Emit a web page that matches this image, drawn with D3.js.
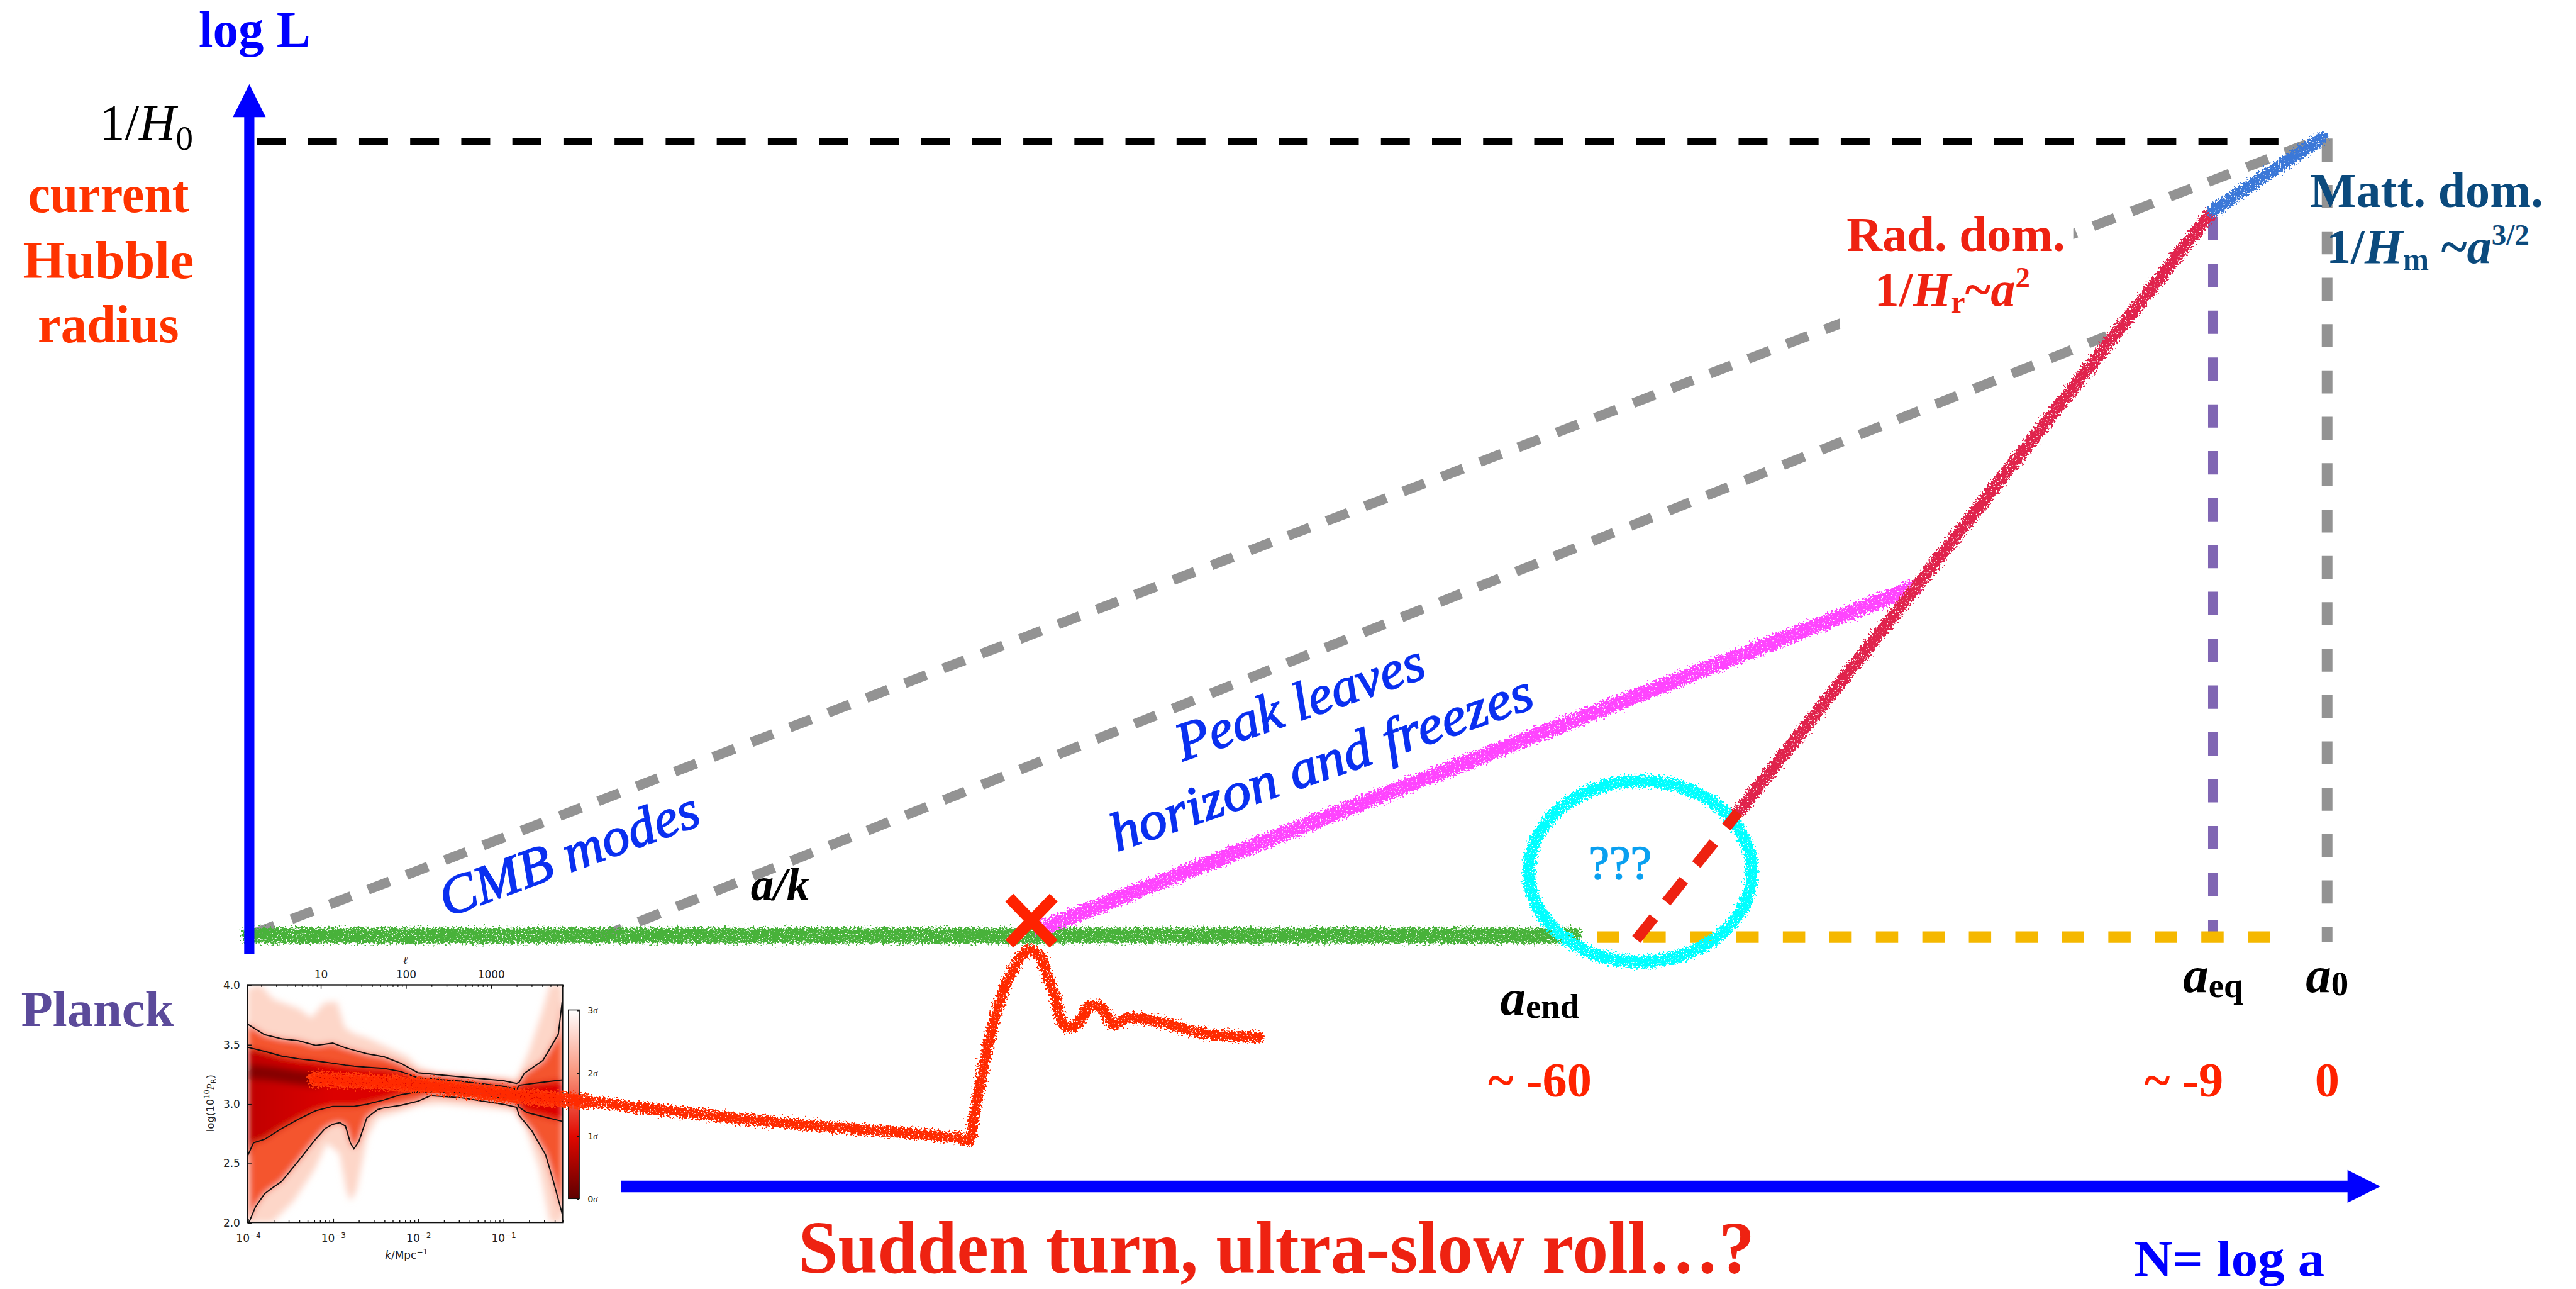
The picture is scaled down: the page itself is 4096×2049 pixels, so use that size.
<!DOCTYPE html>
<html>
<head>
<meta charset="utf-8">
<script src="https://cdn.jsdelivr.net/npm/d3@7"></script>
<style>
  html, body { margin: 0; padding: 0; background: #fff; overflow: hidden; }
  svg { display: block; }
</style>
</head>
<body>
<svg id="fig"></svg>
<script>
// drawing units (the viewBox scales them up to the window)
var W = 1568, H = 784;
var serif = "'Liberation Serif', 'Times New Roman', serif";
var sans = "'DejaVu Sans', sans-serif";

// ---------- schematic: x = N (e-folds, 0 today), y = log L with 1/H0 = 1 ----------
var axisN = -163.9, axisTopL = 1.072, axisBottomL = -0.023;
var arrowStartN = -134.6, arrowEndN = 4.2, arrowL = -0.316;

var hubbleLine   = [[-163.3, 1], [-3.05, 1]];
var modeUpper    = [[-163.6, 0.002], [-0.4, 1.004]];
var modeLower    = [[-136.2, -0.002], [-17.38, 0.755]];
var todayLine    = [[0, 1.0035], [0, -0.008]];
var eqLine       = [[-9, 0.905], [-9, 0.004]];
var reheatLine   = [[-57.6, -0.002], [-4.08, -0.002]];
var inflation    = [[-163.9, 0], [-59.4, 0]];
var peakExit     = [[-101.4, 0.009], [-32.46, 0.439]];
var radLine      = [[-46.46, 0.155], [-9, 0.913]];
var mattLine     = [[-9, 0.913], [-0.4, 1.004]];
var guessLine    = [[-54.49, -0.005], [-46.46, 0.155]];
var unknownSpot  = [-54.17, 0.0807];
var unknownSize  = [8.8, 0.114];
var peakMark     = [-102.2, 0.0186];

// sketched power spectrum, drawn below the axis (N, log L)
var spectrum = [
  [-158.68, -0.181], [-150.52, -0.188], [-144.56, -0.199], [-137.43, -0.209],
  [-123.76, -0.233], [-108.01, -0.255], [-107.13, -0.258], [-106.73, -0.227],
  [-105.48, -0.128], [-104.23, -0.062], [-103.19, -0.030], [-102.36, -0.018],
  [-101.53, -0.026], [-100.92, -0.053], [-100.29, -0.079], [-99.89, -0.106],
  [-99.25, -0.116], [-98.42, -0.108], [-97.59, -0.089], [-96.76, -0.090],
  [-95.73, -0.112], [-94.69, -0.104], [-92.20, -0.108], [-89.69, -0.120],
  [-87.21, -0.126], [-84.30, -0.128]
];

var aLabels = ["end", "eq", "0"];
var aLabelN = [-62.1, -9, 0];
var nLabels = ["~ -60", "~ -9", "0"];
var nLabelN = [-62.1, -11.3, 0];

// ---------- Planck inset: log10 k vs log(10^10 P_R) ----------
var kTicks = [1e-4, 1e-3, 1e-2, 1e-1];
var kTickExp = ["\u22124", "\u22123", "\u22122", "\u22121"];
var ellTicks = [10, 100, 1000];
var pTicks = [2.0, 2.5, 3.0, 3.5, 4.0];
var sigmaTicks = [0, 1, 2, 3];

var upper3 = [[-4, 3.97], [-3.85, 4.0], [-3.7, 3.88], [-3.4, 3.80], [-3.25, 3.72], [-3.1, 3.85],
  [-2.95, 3.86], [-2.86, 3.64], [-2.75, 3.59], [-2.6, 3.555], [-2.37, 3.48], [-2.12, 3.395],
  [-2.0, 3.31], [-1.75, 3.25], [-1.0, 3.22], [-0.84, 3.21], [-0.7, 3.43], [-0.55, 3.75], [-0.45, 4.0], [-0.3, 4.0]];
var lower3 = [[-4, 2.0], [-3.71, 2.0], [-3.46, 2.18], [-3.21, 2.45], [-3.07, 2.67], [-2.92, 2.58],
  [-2.84, 2.27], [-2.79, 2.18], [-2.72, 2.27], [-2.595, 2.72], [-2.47, 2.88], [-2.22, 2.93],
  [-1.975, 2.986], [-1.73, 3.0], [-0.98, 2.95], [-0.84, 2.93], [-0.74, 2.81], [-0.57, 2.45], [-0.45, 2.0], [-0.3, 2.0]];
var upper2 = [[-4, 3.67], [-3.8, 3.58], [-3.6, 3.546], [-3.4, 3.53], [-3.2, 3.49], [-3.0, 3.51],
  [-2.85, 3.47], [-2.75, 3.45], [-2.6, 3.42], [-2.4, 3.395], [-2.2, 3.34], [-2.0, 3.26],
  [-1.5, 3.226], [-1.0, 3.194], [-0.84, 3.17], [-0.81, 3.18], [-0.75, 3.255], [-0.53, 3.364],
  [-0.35, 3.585], [-0.3, 3.89]];
var upper1 = [[-4, 3.475], [-3.8, 3.44], [-3.6, 3.40], [-3.4, 3.377], [-3.2, 3.36], [-3.0, 3.34],
  [-2.85, 3.324], [-2.75, 3.315], [-2.6, 3.306], [-2.4, 3.297], [-2.2, 3.27], [-2.0, 3.217],
  [-1.5, 3.19], [-1.0, 3.146], [-0.84, 3.12], [-0.81, 3.155], [-0.53, 3.18], [-0.3, 3.20]];
var lower1 = [[-4, 2.56], [-3.93, 2.67], [-3.8, 2.70], [-3.6, 2.79], [-3.4, 2.87], [-3.2, 2.94],
  [-3.0, 2.977], [-2.75, 2.977], [-2.6, 2.995], [-2.4, 3.03], [-2.2, 3.075], [-2.0, 3.10],
  [-1.5, 3.09], [-1.0, 3.05], [-0.84, 3.02], [-0.81, 2.97], [-0.72, 2.925], [-0.3, 2.85]];
var lower2 = [[-3.983, 2.0], [-3.908, 2.13], [-3.802, 2.24], [-3.71, 2.29], [-3.6, 2.345],
  [-3.4, 2.52], [-3.202, 2.70], [-3.09, 2.79], [-3.001, 2.826], [-2.917, 2.84], [-2.85, 2.81],
  [-2.793, 2.67], [-2.751, 2.62], [-2.694, 2.68], [-2.6, 2.88], [-2.471, 2.95], [-2.4, 2.964],
  [-2.2, 2.986], [-2.0, 3.02], [-1.851, 3.066], [-1.5, 3.05], [-1.0, 2.995], [-0.84, 2.97],
  [-0.81, 2.90], [-0.66, 2.77], [-0.50, 2.57], [-0.41, 2.35], [-0.3, 2.06]];
var darkCore = [[-4, 3.27], [-3.7, 3.25], [-3.4, 3.22], [-3.15, 3.2]];

// ---------- svg ----------
var svg = d3.select("#fig")
  .attr("width", 4096).attr("height", 2049)
  .attr("viewBox", "0 0 " + W + " " + H)
  .attr("preserveAspectRatio", "none");

var xN = d3.scaleLinear().domain([-60, 0]).range([953.5, 1416.5]);
var yL = d3.scaleLinear().domain([0, 1]).range([569, 86]);
var line = d3.line().x(d => xN(d[0])).y(d => yL(d[1]));

var defs = svg.append("defs");

// chalky, ragged strokes
var chalk = defs.append("filter").attr("id", "chalk")
  .attr("filterUnits", "userSpaceOnUse").attr("x", 0).attr("y", 0).attr("width", W).attr("height", H)
  .attr("color-interpolation-filters", "sRGB");
chalk.append("feTurbulence").attr("type", "fractalNoise").attr("baseFrequency", 0.8)
  .attr("numOctaves", 2).attr("seed", 4).attr("result", "warp");
chalk.append("feDisplacementMap").attr("in", "SourceGraphic").attr("in2", "warp").attr("scale", 7)
  .attr("xChannelSelector", "R").attr("yChannelSelector", "G").attr("result", "rough");
chalk.append("feTurbulence").attr("type", "fractalNoise").attr("baseFrequency", 1.3)
  .attr("numOctaves", 1).attr("seed", 9).attr("result", "speck");
chalk.append("feColorMatrix").attr("in", "speck").attr("type", "matrix")
  .attr("values", "0 0 0 0 0  0 0 0 0 0  0 0 0 0 0  -9 0 0 0 6.6").attr("result", "holes");
chalk.append("feComposite").attr("in", "rough").attr("in2", "holes").attr("operator", "in");

var soft = defs.append("filter").attr("id", "soft")
  .attr("filterUnits", "userSpaceOnUse").attr("x", 0).attr("y", 0).attr("width", W).attr("height", H);
soft.append("feGaussianBlur").attr("stdDeviation", 2);

// ================= Planck inset =================
var kInset = d3.scaleLog().domain([1e-4, 0.5]).range([150.7, 342.4]);
var ellInset = d3.scaleLog().domain([1.4, 7000]).range([150.7, 342.4]);
var pInset = d3.scaleLinear().domain([2, 4]).range([743.5, 599]);
var sigInset = d3.scaleLinear().domain([0, 3]).range([729, 614.3]);
var lineK = d3.line().x(d => kInset(Math.pow(10, d[0]))).y(d => pInset(d[1]));
function band(up, lo) { return lineK(up.concat(lo.slice().reverse())) + "Z"; }

defs.append("clipPath").attr("id", "plotClip").append("rect")
  .attr("x", kInset.range()[0]).attr("y", pInset.range()[1])
  .attr("width", kInset.range()[1] - kInset.range()[0])
  .attr("height", pInset.range()[0] - pInset.range()[1]);

var coreGrad = defs.append("linearGradient").attr("id", "coreGrad")
  .attr("gradientUnits", "userSpaceOnUse")
  .attr("x1", kInset(1e-4)).attr("x2", kInset(1e-3)).attr("y1", 0).attr("y2", 0);
coreGrad.append("stop").attr("offset", 0).attr("stop-color", "#c00000");
coreGrad.append("stop").attr("offset", 1).attr("stop-color", "#dc0500");

var inset = svg.append("g");
var shade = inset.append("g").attr("clip-path", "url(#plotClip)").append("g").attr("filter", "url(#soft)");
shade.append("path").attr("d", band(upper3, lower3)).attr("fill", "#fdd6c8");
shade.append("path").attr("d", band(upper2, lower2)).attr("fill", "#f4542e");
shade.append("path").attr("d", band(upper1, lower1)).attr("fill", "url(#coreGrad)");
shade.append("path").attr("d", lineK(darkCore)).attr("fill", "none")
  .attr("stroke", "#6a0000").attr("stroke-width", 9).attr("stroke-opacity", 0.7);

var contours = inset.append("g").attr("clip-path", "url(#plotClip)");
[upper2, upper1, lower1, lower2].forEach(function(c) {
  contours.append("path").attr("d", lineK(c)).attr("fill", "none")
    .attr("stroke", "#111").attr("stroke-width", 0.75);
});

inset.append("rect")
  .attr("x", kInset.range()[0]).attr("y", pInset.range()[1])
  .attr("width", kInset.range()[1] - kInset.range()[0])
  .attr("height", pInset.range()[0] - pInset.range()[1])
  .attr("fill", "none").attr("stroke", "#111").attr("stroke-width", 0.9);

function styleAxis(g, size) {
  g.select(".domain").remove();
  g.selectAll("line").attr("stroke", "#111").attr("stroke-width", 0.55);
  g.selectAll("text").attr("font-family", sans).attr("font-size", size).attr("fill", "#222");
}

var kMinor = kInset.ticks().filter(d => kTicks.indexOf(d) < 0);
var ellMinor = ellInset.ticks().filter(d => ellTicks.indexOf(d) < 0);

var gB = inset.append("g").attr("transform", "translate(0," + pInset.range()[0] + ")")
  .call(d3.axisBottom(kInset).tickValues(kTicks).tickSize(-2.4).tickSizeOuter(0).tickPadding(7));
styleAxis(gB, 6.5);
gB.selectAll(".tick text").each(function(d, i) {
  var t = d3.select(this).text(null);
  t.append("tspan").text("10");
  t.append("tspan").attr("dy", "-0.45em").attr("font-size", 4.6).text(kTickExp[i]);
});
var gBm = inset.append("g").attr("transform", "translate(0," + pInset.range()[0] + ")")
  .call(d3.axisBottom(kInset).tickValues(kMinor).tickSize(-1.2).tickSizeOuter(0).tickFormat(""));
styleAxis(gBm, 6.5);

var gT = inset.append("g").attr("transform", "translate(0," + pInset.range()[1] + ")")
  .call(d3.axisTop(ellInset).tickValues(ellTicks).tickSize(-2.4).tickSizeOuter(0).tickPadding(4)
    .tickFormat(d3.format("d")));
styleAxis(gT, 6.5);
var gTm = inset.append("g").attr("transform", "translate(0," + pInset.range()[1] + ")")
  .call(d3.axisTop(ellInset).tickValues(ellMinor).tickSize(-1.2).tickSizeOuter(0).tickFormat(""));
styleAxis(gTm, 6.5);

var gL = inset.append("g").attr("transform", "translate(" + kInset.range()[0] + ",0)")
  .call(d3.axisLeft(pInset).tickValues(pTicks).tickSize(-2.4).tickSizeOuter(0).tickPadding(4.5)
    .tickFormat(d3.format(".1f")));
styleAxis(gL, 6.5);

inset.append("text").attr("x", ellInset(100)).attr("y", 586)
  .attr("text-anchor", "middle").attr("font-family", serif).attr("font-style", "italic")
  .attr("font-size", 6.5).attr("fill", "#222").text("\u2113");

var kLab = inset.append("text").attr("x", kInset(1e-2) - 7).attr("y", 765.5)
  .attr("text-anchor", "middle").attr("font-family", sans).attr("font-size", 6.5).attr("fill", "#222");
kLab.append("tspan").attr("font-style", "italic").text("k");
kLab.append("tspan").text("/Mpc");
kLab.append("tspan").attr("dy", -2.6).attr("font-size", 4.6).text("\u22121");

var pLab = inset.append("text").attr("transform", "translate(130,671) rotate(-90)")
  .attr("text-anchor", "middle").attr("font-family", sans).attr("font-size", 6.3).attr("fill", "#222");
pLab.append("tspan").text("log(10");
pLab.append("tspan").attr("dy", -2.4).attr("font-size", 4.4).text("10");
pLab.append("tspan").attr("dy", 2.4).attr("font-family", serif).attr("font-style", "italic").text("P");
pLab.append("tspan").attr("dy", 1.4).attr("font-size", 4.2).text("R");
pLab.append("tspan").attr("dy", -1.4).text(")");

// colour bar
var cbGrad = defs.append("linearGradient").attr("id", "cbGrad")
  .attr("x1", 0).attr("y1", 1).attr("x2", 0).attr("y2", 0);
[[0, "#5e0000"], [0.33, "#e00800"], [0.66, "#f9937a"], [1, "#ffffff"]].forEach(function(s) {
  cbGrad.append("stop").attr("offset", s[0]).attr("stop-color", s[1]);
});
inset.append("rect").attr("x", 346).attr("y", sigInset(3)).attr("width", 6.6)
  .attr("height", sigInset(0) - sigInset(3)).attr("fill", "url(#cbGrad)")
  .attr("stroke", "#111").attr("stroke-width", 0.6);
var gC = inset.append("g").attr("transform", "translate(352.6,0)")
  .call(d3.axisRight(sigInset).tickValues(sigmaTicks).tickSize(-1.5).tickSizeOuter(0).tickPadding(5));
styleAxis(gC, 5.5);
gC.selectAll(".tick text").each(function(d) {
  var t = d3.select(this).text(null);
  t.append("tspan").text(d);
  t.append("tspan").attr("font-family", serif).attr("font-style", "italic").text("\u03c3");
});

// ================= dashed guides =================
function dashed(data, color, width, dash, offset) {
  svg.append("path").attr("d", line(data)).attr("fill", "none")
    .attr("stroke", color).attr("stroke-width", width)
    .attr("stroke-dasharray", dash).attr("stroke-dashoffset", offset || 0);
}
dashed(modeUpper, "#939393", 6, "14 11");
dashed(modeLower, "#939393", 6, "14 11");
dashed(hubbleLine, "#000", 4.4, "17.6 13.5");

// white label boxes
svg.append("rect").attr("x", 1120).attr("y", 126).attr("width", 142).attr("height", 74).attr("fill", "#fff");
svg.append("rect").attr("x", 1402).attr("y", 97).attr("width", 150).attr("height", 74).attr("fill", "#fff");

dashed(eqLine, "#8066b3", 6, "14.2 14.3");
dashed(todayLine, "#939393", 6.5, "14 14.2");
dashed(reheatLine, "#f5b800", 6.9, "13.6 14.7");

// ================= chalk curves =================
var sketch = svg.append("g").attr("filter", "url(#chalk)").attr("fill", "none").attr("stroke-linecap", "round");
sketch.append("path").attr("d", line(inflation)).attr("stroke", "#48b23a").attr("stroke-width", 9.5);
sketch.append("path").attr("d", line(peakExit)).attr("stroke", "#ff44ff").attr("stroke-width", 9);
sketch.append("path").attr("d", line(radLine)).attr("stroke", "#e0234c").attr("stroke-width", 7.5);
sketch.append("path").attr("d", line(mattLine)).attr("stroke", "#3b78d8").attr("stroke-width", 7.5);
sketch.append("ellipse")
  .attr("cx", xN(unknownSpot[0])).attr("cy", yL(unknownSpot[1]))
  .attr("rx", xN(unknownSize[0]) - xN(0)).attr("ry", yL(0) - yL(unknownSize[1]))
  .attr("stroke", "#00ffff").attr("stroke-width", 7.5);
var specLine = d3.line().x(d => xN(d[0])).y(d => yL(d[1])).curve(d3.curveCatmullRom.alpha(0.5));
sketch.append("path").attr("d", specLine(spectrum.slice(0, 4))).attr("stroke", "#ff3a0a").attr("stroke-width", 9.5);
sketch.append("path").attr("d", specLine(spectrum)).attr("stroke", "#ff2a00").attr("stroke-width", 6.5);

// unknown stretch of the radiation era
svg.append("path").attr("d", line(guessLine)).attr("fill", "none")
  .attr("stroke", "#ee2211").attr("stroke-width", 6.5).attr("stroke-dasharray", "17 12.2");

// peak leaves the horizon
var cx = xN(peakMark[0]), cy = yL(peakMark[1]);
svg.append("path")
  .attr("d", "M" + (cx - 13.5) + "," + (cy - 14) + "L" + (cx + 13.5) + "," + (cy + 14) +
             "M" + (cx + 13.5) + "," + (cy - 14) + "L" + (cx - 13.5) + "," + (cy + 14))
  .attr("stroke", "#ff2200").attr("stroke-width", 6.8).attr("fill", "none");

// ================= axes arrows =================
function arrow(x1, y1, x2, y2, shaft, headLen, headHalf) {
  var dx = x2 - x1, dy = y2 - y1, len = Math.hypot(dx, dy);
  var ux = dx / len, uy = dy / len, px = -uy, py = ux;
  var bx = x2 - ux * headLen, by = y2 - uy * headLen, s = shaft / 2;
  var p = [[x1 + px * s, y1 + py * s], [bx + px * s, by + py * s], [bx + px * headHalf, by + py * headHalf],
           [x2, y2], [bx - px * headHalf, by - py * headHalf], [bx - px * s, by - py * s], [x1 - px * s, y1 - py * s]];
  svg.append("path").attr("d", "M" + p.join("L") + "Z").attr("fill", "#0000ff");
}
arrow(xN(axisN), yL(axisBottomL), xN(axisN), yL(axisTopL), 6.2, 20, 10);
arrow(xN(arrowStartN), yL(arrowL), xN(arrowEndN), yL(arrowL), 7, 20, 10);

// ================= text =================
function txt(x, y, s, o) {
  o = o || {};
  var t = svg.append("text").attr("x", x).attr("y", y)
    .attr("font-family", o.family || serif).attr("font-size", o.size || 30)
    .attr("font-weight", o.weight || "bold").attr("fill", o.fill || "#000")
    .attr("text-anchor", o.anchor || "start");
  if (o.italic) t.attr("font-style", "italic");
  if (o.heavy) t.attr("stroke", o.fill).attr("stroke-width", o.heavy);
  if (o.rotate) t.attr("transform", "rotate(" + o.rotate + "," + x + "," + y + ")");
  if (s !== null) t.text(s);
  if (o.len) t.attr("textLength", o.len).attr("lengthAdjust", "spacingAndGlyphs");
  return t;
}
function part(t, s, o) {
  o = o || {};
  var sp = t.append("tspan").text(s);
  if (o.italic) sp.attr("font-style", "italic");
  if (o.size) sp.attr("font-size", o.size);
  if (o.dy) sp.attr("dy", o.dy);
  if (o.weight) sp.attr("font-weight", o.weight);
  return sp;
}

txt(155, 28.5, "log L", {size: 31, fill: "#0000ff", anchor: "middle", len: 68});

var h0 = txt(117.5, 85, null, {size: 31, weight: "normal", anchor: "end"});
part(h0, "1/"); part(h0, "H", {italic: true}); part(h0, "0", {size: 21, dy: 6});

txt(66, 129, "current", {size: 32, fill: "#ff3300", anchor: "middle", len: 98});
txt(66, 169, "Hubble", {size: 32, fill: "#ff3300", anchor: "middle", len: 104});
txt(66, 208, "radius", {size: 32, fill: "#ff3300", anchor: "middle", len: 86});

txt(1124, 152.7, "Rad. dom.", {size: 30, fill: "#ee2211", len: 133});
var hr = txt(1141, 186, null, {size: 30, fill: "#ee2211"});
part(hr, "1/"); part(hr, "H", {italic: true}); part(hr, "r", {size: 19, dy: 4});
part(hr, "~", {dy: -4}); part(hr, "a", {italic: true}); part(hr, "2", {size: 18, dy: -11});

txt(1406, 125.7, "Matt. dom.", {size: 30, fill: "#0b4a7d", len: 142});
var hm = txt(1416, 160, null, {size: 30, fill: "#0b4a7d"});
part(hm, "1/"); part(hm, "H", {italic: true}); part(hm, "m", {size: 19, dy: 4});
part(hm, " ~", {dy: -4}); part(hm, "a", {italic: true}); part(hm, "3/2", {size: 18, dy: -11});

var blueTxt = {size: 33, weight: "normal", italic: true, fill: "#0a30f0", rotate: -19, heavy: 0.7};
txt(272, 558, "CMB modes", Object.assign({}, blueTxt, {len: 166, rotate: -20}));
txt(720, 463, "Peak leaves", Object.assign({}, blueTxt, {len: 158}));
txt(680, 518, "horizon and freezes", Object.assign({}, blueTxt, {len: 270}));

var ak = txt(457, 547.6, null, {size: 28, italic: true});
part(ak, "a/k");

txt(986, 534.5, "???", {size: 29, weight: "normal", fill: "#0aa0f0", anchor: "middle", len: 38.5, heavy: 0.6});

txt(12.8, 624, "Planck", {size: 31, fill: "#5b4a9a", len: 93});

aLabels.forEach(function(s, i) {
  var y = i === 0 ? 617 : 603.5;
  var t = txt(xN(aLabelN[i]), y, null, {size: 31, anchor: "middle"});
  part(t, "a", {italic: true});
  part(t, s, {size: 21, dy: i === 1 ? 3 : 2});
});
nLabels.forEach(function(s, i) {
  txt(xN(nLabelN[i]), 667, s, {size: 30, fill: "#ff2200", anchor: "middle"});
});

txt(1299, 776, "N= log a", {size: 31, fill: "#0000ff", len: 116});
txt(486, 774, "Sudden turn, ultra-slow roll\u2026?", {size: 45, fill: "#ee2211", len: 582});
</script>
</body>
</html>
